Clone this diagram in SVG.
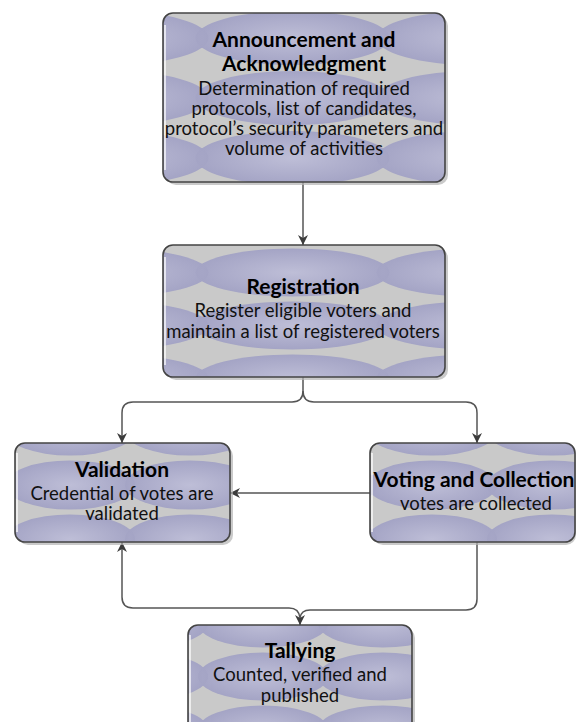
<svg xmlns="http://www.w3.org/2000/svg" width="576" height="722" viewBox="0 0 576 722">
<style>
.shadow{fill:#b4b4b4;opacity:0.7}
.box{stroke:#444;stroke-width:1.6}
.hl{stroke:#fff;stroke-width:1.5;opacity:0.9}
.t{font-family:Lato,"Open Sans",sans-serif;font-weight:bold;font-size:21px;fill:#000;text-anchor:middle}
.b{font-family:Lato,"Open Sans",sans-serif;font-size:18.5px;fill:#111;text-anchor:middle}
.c{fill:none;stroke:#555;stroke-width:1.5}
</style>
<defs>
<radialGradient id="lav" cx="0.5" cy="0.5" r="0.5">
<stop offset="0" stop-color="#bebed7"/>
<stop offset="1" stop-color="#a4a4c5"/>
</radialGradient>
<pattern id="p1" patternUnits="userSpaceOnUse" x="202" y="8" width="181" height="60">
<rect width="181" height="60" fill="#c9c9c9"/>
<ellipse cx="90.5" cy="30" rx="97" ry="27" fill="url(#lav)"/>
<ellipse cx="-90.5" cy="30" rx="97" ry="27" fill="url(#lav)"/>
<ellipse cx="271.5" cy="30" rx="97" ry="27" fill="url(#lav)"/>
</pattern>
<pattern id="p2" patternUnits="userSpaceOnUse" x="202" y="246" width="181" height="53">
<rect width="181" height="53" fill="#c9c9c9"/>
<ellipse cx="90.5" cy="26.5" rx="97" ry="24" fill="url(#lav)"/>
<ellipse cx="-90.5" cy="26.5" rx="97" ry="24" fill="url(#lav)"/>
<ellipse cx="271.5" cy="26.5" rx="97" ry="24" fill="url(#lav)"/>
</pattern>
<pattern id="pV" patternUnits="userSpaceOnUse" x="130" y="458" width="120" height="54">
<rect width="120" height="54" fill="#c9c9c9"/>
<ellipse cx="60" cy="27" rx="65" ry="24.5" fill="url(#lav)"/>
<ellipse cx="-60" cy="27" rx="65" ry="24.5" fill="url(#lav)"/>
<ellipse cx="180" cy="27" rx="65" ry="24.5" fill="url(#lav)"/>
</pattern>
<pattern id="pC" patternUnits="userSpaceOnUse" x="492" y="458" width="120" height="54">
<rect width="120" height="54" fill="#c9c9c9"/>
<ellipse cx="60" cy="27" rx="65" ry="24.5" fill="url(#lav)"/>
<ellipse cx="-60" cy="27" rx="65" ry="24.5" fill="url(#lav)"/>
<ellipse cx="180" cy="27" rx="65" ry="24.5" fill="url(#lav)"/>
</pattern>
<pattern id="pT" patternUnits="userSpaceOnUse" x="323" y="650" width="120" height="53">
<rect width="120" height="53" fill="#c9c9c9"/>
<ellipse cx="60" cy="26.5" rx="65" ry="24" fill="url(#lav)"/>
<ellipse cx="-60" cy="26.5" rx="65" ry="24" fill="url(#lav)"/>
<ellipse cx="180" cy="26.5" rx="65" ry="24" fill="url(#lav)"/>
</pattern>
<marker id="arr" markerUnits="userSpaceOnUse" markerWidth="12" markerHeight="10" refX="10" refY="5" orient="auto">
<path d="M0,0 L10,5 L0,10 L3,5 z" fill="#3c3c3c"/>
</marker>
</defs>
<rect width="576" height="722" fill="#fff"/>

<g id="connectors">
<path class="c" d="M303,182 V245" marker-end="url(#arr)"/>
<path class="c" d="M303,377 V391 Q303,402 292,402 H133 Q122,402 122,413 V443" marker-end="url(#arr)"/>
<path class="c" d="M303,391 Q303,402 314,402 H466 Q477,402 477,413 V443" marker-end="url(#arr)"/>
<path class="c" d="M370,493 H230" marker-end="url(#arr)"/>
<path class="c" d="M477,542 V599 Q477,610 466,610 H310 Q301,610 300,618 V625" marker-end="url(#arr)"/>
<path class="c" d="M300,618 Q299,608 289,608 H133 Q122,608 122,597 V542" marker-end="url(#arr)"/>
</g>

<g id="announcement">
<rect class="shadow" x="166" y="16" width="282" height="169" rx="10"/>
<rect class="box" x="163" y="13" width="282" height="169" rx="10" fill="url(#p1)"/>
<line class="hl" x1="165" y1="25" x2="165" y2="170"/>
<text class="t" x="304" y="47">Announcement and</text>
<text class="t" x="304" y="71">Acknowledgment</text>
<text class="b" x="304" y="95">Determination of required</text>
<text class="b" x="304" y="115">protocols, list of candidates,</text>
<text class="b" x="304" y="135">protocol’s security parameters and</text>
<text class="b" x="304" y="155">volume of activities</text>
</g>

<g id="registration">
<rect class="shadow" x="166" y="248" width="282" height="132" rx="10"/>
<rect class="box" x="163" y="245" width="282" height="132" rx="10" fill="url(#p2)"/>
<line class="hl" x1="165" y1="257" x2="165" y2="365"/>
<text class="t" x="303" y="294">Registration</text>
<text class="b" x="303" y="317">Register eligible voters and</text>
<text class="b" x="303" y="338">maintain a list of registered voters</text>
</g>

<g id="validation">
<rect class="shadow" x="18" y="446" width="215" height="99" rx="10"/>
<rect class="box" x="15" y="443" width="215" height="99" rx="10" fill="url(#pV)"/>
<line class="hl" x1="17" y1="453" x2="17" y2="532"/>
<text class="t" x="122" y="477">Validation</text>
<text class="b" x="122" y="500">Credential of votes are</text>
<text class="b" x="122" y="520">validated</text>
</g>

<g id="voting">
<rect class="shadow" x="373" y="446" width="203" height="99" rx="10"/>
<rect class="box" x="370" y="443" width="205" height="99" rx="10" fill="url(#pC)"/>
<line class="hl" x1="372" y1="453" x2="372" y2="532"/>
<text class="t" x="474" y="487">Voting and Collection</text>
<text class="b" x="476" y="510">votes are collected</text>
</g>

<g id="tallying">
<rect class="shadow" x="191" y="628" width="224" height="110" rx="10"/>
<rect class="box" x="188" y="625" width="224" height="110" rx="10" fill="url(#pT)"/>
<line class="hl" x1="190" y1="635" x2="190" y2="722"/>
<text class="t" x="300" y="658">Tallying</text>
<text class="b" x="300" y="681">Counted, verified and</text>
<text class="b" x="300" y="702">published</text>
</g>
</svg>
